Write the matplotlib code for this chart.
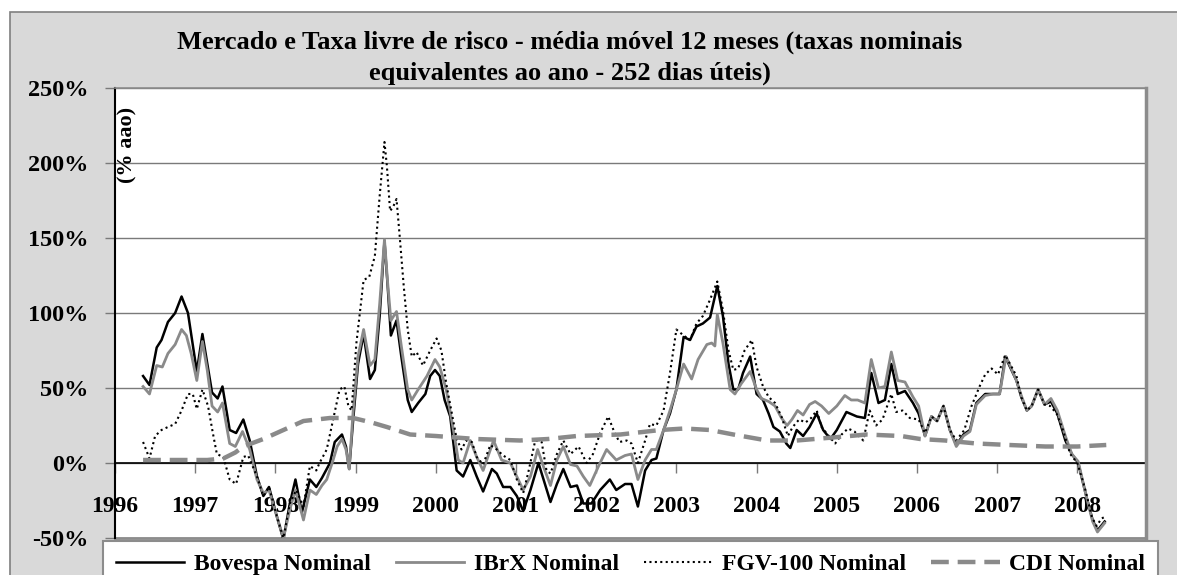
import matplotlib
matplotlib.use('Agg')
import matplotlib.pyplot as plt
from matplotlib.patches import Rectangle
from matplotlib.lines import Line2D

# ---------------- data ----------------
bov_t = [1996.35, 1996.43, 1996.52, 1996.58, 1996.66, 1996.75, 1996.83, 1996.91, 1997.02, 1997.09,
         1997.21, 1997.28, 1997.34, 1997.43, 1997.51, 1997.60, 1997.68, 1997.77, 1997.85, 1997.92,
         1998.02, 1998.10, 1998.18, 1998.25, 1998.33, 1998.43, 1998.51, 1998.58, 1998.68, 1998.74,
         1998.83, 1998.88, 1998.92, 1998.97, 1999.03, 1999.10, 1999.18, 1999.24, 1999.30, 1999.36,
         1999.40, 1999.44, 1999.51, 1999.57, 1999.65, 1999.70, 1999.78, 1999.87, 1999.93, 1999.99,
         2000.05, 2000.11, 2000.18, 2000.26, 2000.34, 2000.43, 2000.51, 2000.59, 2000.70, 2000.76,
         2000.84, 2000.93, 2001.01, 2001.09, 2001.18, 2001.28, 2001.36, 2001.43, 2001.51, 2001.59,
         2001.68, 2001.76, 2001.84, 2001.94, 2002.05, 2002.17, 2002.25, 2002.36, 2002.44, 2002.52,
         2002.61, 2002.69, 2002.75, 2002.84, 2002.92, 2003.00, 2003.09, 2003.17, 2003.25, 2003.33,
         2003.42, 2003.51, 2003.58, 2003.65, 2003.71, 2003.77, 2003.83, 2003.92, 2004.00, 2004.08,
         2004.15, 2004.21, 2004.29, 2004.37, 2004.42, 2004.50, 2004.58, 2004.66, 2004.75, 2004.83,
         2004.92, 2005.00, 2005.12, 2005.25, 2005.35, 2005.43, 2005.52, 2005.60, 2005.68, 2005.76,
         2005.85, 2005.95, 2006.02, 2006.10, 2006.18, 2006.25, 2006.33, 2006.41, 2006.49, 2006.58,
         2006.66, 2006.74, 2006.85, 2006.95, 2007.03, 2007.10, 2007.16, 2007.24, 2007.30, 2007.37,
         2007.43, 2007.51, 2007.59, 2007.67, 2007.75, 2007.85, 2007.93, 2008.01, 2008.11, 2008.19,
         2008.25, 2008.34]
bovespa = [58, 52, 77, 82, 94, 100, 111, 100, 61, 86,
           47, 43, 51, 22, 20, 29, 15, -9, -22, -16,
           -36, -51, -27, -11, -33, -11, -16, -10, 0, 14,
           19, 11, -4, 29, 66, 86, 56, 62, 98, 148,
           118, 85, 95, 71, 42, 34, 40, 46, 58, 62,
           58, 42, 31, -5, -9, 2, -9, -19, -4, -7,
           -16, -16, -22, -32, -18, 0, -14, -26, -14, -4,
           -16, -15, -27, -27, -18, -11, -18, -14, -14, -29,
           -5, 2, 3, 22, 33, 49, 84, 82, 91, 93,
           97, 118, 98, 66, 49, 49, 60, 71, 46, 42,
           33, 24, 21, 13, 10, 22, 18, 24, 33, 22,
           16, 22, 34, 31, 30, 60, 40, 42, 66, 46,
           48, 40, 33, 18, 31, 28, 38, 22, 12, 19,
           22, 40, 46, 46, 46, 71, 64, 55, 44, 35,
           38, 49, 39, 41, 33, 15, 6, 0, -22, -38,
           -45, -39]

ibrx_t = [1996.35, 1996.43, 1996.52, 1996.59, 1996.66, 1996.75, 1996.83, 1996.89, 1996.95, 1997.02,
          1997.09, 1997.15, 1997.21, 1997.28, 1997.34, 1997.43, 1997.50, 1997.59, 1997.68, 1997.77,
          1997.85, 1997.92, 1998.02, 1998.10, 1998.18, 1998.25, 1998.35, 1998.43, 1998.51, 1998.58,
          1998.64, 1998.72, 1998.77, 1998.83, 1998.88, 1998.92, 1998.97, 1999.03, 1999.10, 1999.18,
          1999.24, 1999.30, 1999.36, 1999.40, 1999.44, 1999.51, 1999.57, 1999.65, 1999.70, 1999.78,
          1999.89, 1999.99, 2000.05, 2000.13, 2000.22, 2000.28, 2000.34, 2000.43, 2000.51, 2000.59,
          2000.72, 2000.82, 2000.93, 2001.01, 2001.09, 2001.18, 2001.27, 2001.34, 2001.43, 2001.51,
          2001.59, 2001.68, 2001.76, 2001.84, 2001.92, 2002.03, 2002.13, 2002.25, 2002.36, 2002.44,
          2002.52, 2002.61, 2002.69, 2002.75, 2002.84, 2002.92, 2003.00, 2003.09, 2003.19, 2003.27,
          2003.38, 2003.44, 2003.48, 2003.51, 2003.58, 2003.67, 2003.73, 2003.81, 2003.92, 2004.00,
          2004.06, 2004.15, 2004.23, 2004.31, 2004.38, 2004.44, 2004.51, 2004.58, 2004.66, 2004.73,
          2004.81, 2004.90, 2005.00, 2005.10, 2005.18, 2005.26, 2005.35, 2005.43, 2005.52, 2005.60,
          2005.68, 2005.76, 2005.85, 2005.95, 2006.02, 2006.10, 2006.18, 2006.25, 2006.33, 2006.41,
          2006.49, 2006.58, 2006.66, 2006.74, 2006.85, 2006.95, 2007.03, 2007.11, 2007.16, 2007.24,
          2007.30, 2007.37, 2007.43, 2007.51, 2007.59, 2007.67, 2007.75, 2007.85, 2007.93, 2008.01,
          2008.11, 2008.19, 2008.25, 2008.34]
ibrx = [51, 46, 65, 64, 73, 79, 89, 85, 73, 55,
        81, 62, 38, 34, 40, 13, 11, 21, 9, -11,
        -20, -18, -36, -50, -31, -18, -38, -18, -21, -15,
        -11, 2, 11, 16, 9, -4, 35, 71, 89, 65,
        69, 106, 149, 120, 95, 101, 78, 49, 42, 49,
        58, 69, 64, 49, 22, 2, 0, 15, 4, -5,
        15, 2, 0, -9, -18, -9, 9, -2, -15, 2,
        11, -1, -2, -9, -15, -2, 9, 2, 5, 6,
        -11, 2, 9, 9, 22, 35, 49, 66, 56, 69,
        79, 80, 78, 99, 80, 49, 46, 53, 61, 49,
        43, 41, 38, 30, 25, 29, 35, 32, 39, 41,
        38, 33, 38, 45, 42, 42, 40, 69, 50, 51,
        74, 55, 54, 44, 38, 18, 31, 28, 38, 22,
        11, 18, 21, 39, 45, 46, 46, 71, 65, 55,
        45, 35, 38, 49, 39, 43, 35, 18, 6, 1,
        -22, -39, -46, -40]

fgv_t = [1996.35, 1996.43, 1996.50, 1996.58, 1996.66, 1996.75, 1996.83, 1996.91, 1996.97, 1997.02,
         1997.09, 1997.16, 1997.22, 1997.27, 1997.35, 1997.43, 1997.51, 1997.60, 1997.66, 1997.77,
         1997.85, 1997.92, 1998.02, 1998.10, 1998.18, 1998.26, 1998.35, 1998.43, 1998.51, 1998.55,
         1998.64, 1998.72, 1998.80, 1998.86, 1998.91, 1998.95, 1999.01, 1999.10, 1999.17, 1999.24,
         1999.30, 1999.36, 1999.39, 1999.43, 1999.47, 1999.51, 1999.55, 1999.60, 1999.65, 1999.70,
         1999.76, 1999.84, 1999.93, 2000.01, 2000.07, 2000.13, 2000.20, 2000.26, 2000.32, 2000.38,
         2000.45, 2000.51, 2000.59, 2000.68, 2000.76, 2000.84, 2000.93, 2001.01, 2001.09, 2001.15,
         2001.24, 2001.32, 2001.38, 2001.43, 2001.51, 2001.59, 2001.68, 2001.78, 2001.88, 2001.96,
         2002.05, 2002.15, 2002.23, 2002.29, 2002.38, 2002.44, 2002.52, 2002.61, 2002.67, 2002.75,
         2002.84, 2002.92, 2003.00, 2003.09, 2003.17, 2003.25, 2003.33, 2003.42, 2003.51, 2003.58,
         2003.65, 2003.71, 2003.77, 2003.85, 2003.94, 2004.00, 2004.08, 2004.15, 2004.23, 2004.31,
         2004.39, 2004.45, 2004.53, 2004.61, 2004.68, 2004.75, 2004.81, 2004.90, 2004.98, 2005.06,
         2005.14, 2005.22, 2005.33, 2005.41, 2005.49, 2005.57, 2005.68, 2005.74, 2005.82, 2005.91,
         2006.02, 2006.10, 2006.18, 2006.25, 2006.33, 2006.41, 2006.49, 2006.59, 2006.68, 2006.78,
         2006.85, 2006.93, 2007.01, 2007.10, 2007.16, 2007.24, 2007.30, 2007.37, 2007.43, 2007.51,
         2007.59, 2007.66, 2007.74, 2007.82, 2007.91, 2008.00, 2008.10, 2008.18, 2008.24, 2008.30,
         2008.34]
fgv100 = [14, 3, 18, 22, 24, 26, 35, 46, 46, 36,
          49, 38, 20, 6, 4, -11, -14, 4, 5, -9,
          -22, -16, -36, -50, -27, -18, -29, -2, -5, 0,
          9, 29, 49, 51, 38, 35, 80, 122, 124, 138,
          178, 214, 198, 168, 171, 176, 151, 118, 89, 71,
          74, 65, 75, 83, 75, 53, 33, 16, 9, 15,
          14, 4, -1, 12, 9, 5, 2, -11, -20, -7,
          15, 14, -5, -7, 6, 15, 6, 11, 0, 6,
          20, 31, 20, 14, 15, 13, 0, 15, 26, 25,
          35, 60, 89, 85, 82, 93, 98, 109, 121, 102,
          75, 62, 63, 75, 82, 64, 51, 44, 40, 31,
          18, 24, 29, 27, 30, 35, 24, 18, 13, 19,
          23, 21, 15, 35, 25, 29, 46, 34, 35, 30,
          29, 20, 31, 28, 38, 22, 15, 22, 38, 51,
          59, 63, 59, 72, 66, 58, 44, 35, 38, 49,
          39, 38, 33, 22, 6, 0, -18, -36, -42, -37,
          -36]

cdi_t = [1996.35, 1996.60, 1996.90, 1997.15, 1997.35, 1997.50, 1997.60, 1997.85, 1998.10, 1998.35,
         1998.68, 1998.97, 1999.20, 1999.39, 1999.68, 2000.00, 2000.50, 2001.05, 2001.40, 2001.76,
         2002.30, 2002.80, 2003.10, 2003.42, 2003.71, 2004.13, 2004.50, 2004.95, 2005.37, 2005.80,
         2006.04, 2006.35, 2006.74, 2007.15, 2007.60, 2008.00, 2008.36]
cdi = [2, 2, 2, 2, 3, 7, 11, 16, 22, 28,
       30, 30, 27, 24, 19, 18, 16, 15, 16, 18,
       19, 22, 23, 22, 19, 15, 15, 17, 19, 18,
       16, 15, 13, 12, 11, 11, 12]

years = list(range(1996, 2009))
y_ticks = [-50, 0, 50, 100, 150, 200, 250]
series_names = ['Bovespa Nominal', 'IBrX Nominal', 'FGV-100 Nominal', 'CDI Nominal']
title_l1 = 'Mercado e Taxa livre de risco - média móvel 12 meses (taxas nominais'
title_l2 = 'equivalentes ao ano - 252 dias úteis)'
ylabel = '(% aao)'

# ---------------- figure ----------------
W, H = 1177, 575
plt.rcParams['font.family'] = ['Liberation Serif', 'DejaVu Serif']
plt.rcParams['font.weight'] = 'bold'

fig = plt.figure(figsize=(W / 100, H / 100), dpi=100)
fig.patch.set_facecolor('white')
fig.patches.append(Rectangle((10 / W, -0.05), 1.0, (H - 12) / H + 0.05,
                             transform=fig.transFigure, facecolor='#D9D9D9',
                             edgecolor='#7F7F7F', lw=1.2, zorder=-10))

px = lambda v: v / W
py = lambda v: 1 - v / H
ax = fig.add_axes([px(115), py(538), px(1146) - px(115), py(88) - py(538)])
ax.set_zorder(1)
ax.set_facecolor('white')

gray = '#8A8A8A'
ax.plot(bov_t, bovespa, color='black', lw=1.8, zorder=3)
ax.plot(ibrx_t, ibrx, color=gray, lw=2.0, zorder=3)
ax.plot(fgv_t, fgv100, color='black', lw=1.5, linestyle=(0, (1, 1.6)), zorder=4)
ax.plot(cdi_t, cdi, color=gray, lw=3.2, linestyle=(0, (4, 2)), zorder=4)

ax.set_xlim(1996, 1996 + (1146 - 115) / 80.2)
ax.set_ylim(-50, 250)

ax.set_yticks(y_ticks)
ax.set_yticklabels([f'{v}%' for v in y_ticks])
ax.set_xticks(years)
ax.set_xticklabels([str(y) for y in years])

ax.yaxis.grid(True, color='#7A7A7A', lw=1.0, zorder=1)
ax.set_axisbelow(True)

ax.spines['bottom'].set_position(('data', 0))
ax.spines['bottom'].set_color('black')
ax.spines['bottom'].set_linewidth(1.2)
ax.spines['bottom'].set_zorder(2)
ax.spines['left'].set_color('black')
ax.spines['left'].set_linewidth(1.5)
ax.spines['top'].set_color('#8C8C8C')
ax.spines['top'].set_linewidth(1.2)
ax.spines['right'].set_color('#8C8C8C')
ax.spines['right'].set_linewidth(2.5)
ax.axhline(-50, color='#8C8C8C', lw=2.0, clip_on=False, zorder=1)

ax.tick_params(axis='x', direction='out', length=7, width=1, color='#7A7A7A',
               pad=17, labelsize=17)
ax.tick_params(axis='y', direction='out', length=7, width=1, color='#7A7A7A',
               pad=12, labelsize=17.5)
for lab in ax.get_xticklabels() + ax.get_yticklabels():
    lab.set_fontweight('bold')

fig.text(px(127), py(145), ylabel, rotation=90, ha='center', va='center',
         fontsize=16, fontweight='bold', zorder=5)
fig.text(px(570), py(49), title_l1, ha='center', va='baseline', fontsize=19, fontweight='bold')
fig.text(px(570), py(80), title_l2, ha='center', va='baseline', fontsize=19, fontweight='bold')

handles = [Line2D([], [], color='black', lw=1.8),
           Line2D([], [], color=gray, lw=2.0),
           Line2D([], [], color='black', lw=1.5, linestyle=(0, (1, 1.6))),
           Line2D([], [], color=gray, lw=3.2, linestyle=(0, (4, 2)))]
leg = fig.legend(handles, series_names, loc='upper left',
                 bbox_to_anchor=(px(103), py(541), px(1158) - px(103), 0.0001),
                 mode='expand', ncol=4, frameon=True, fancybox=False,
                 edgecolor='#8C8C8C', facecolor='white', framealpha=1,
                 handlelength=2.9, handletextpad=0.4, borderpad=0.55,
                 borderaxespad=0.0,
                 prop={'size': 17, 'weight': 'bold'})
leg.get_frame().set_linewidth(1.5)
leg.set_zorder(10)

fig.savefig('out.png', dpi=100)
